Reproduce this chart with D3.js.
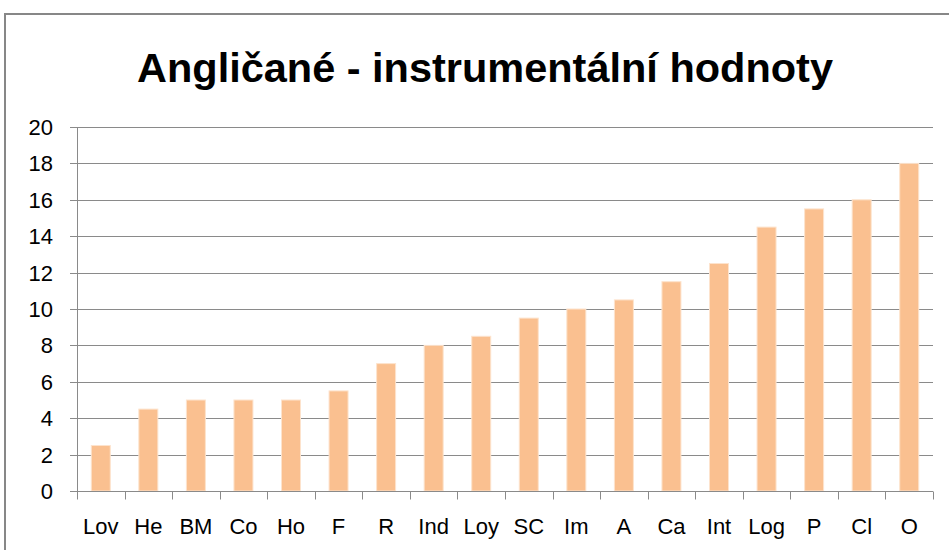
<!DOCTYPE html>
<html>
<head>
<meta charset="utf-8">
<script src="https://cdn.jsdelivr.net/npm/d3@7"></script>
<style>
  html, body { margin: 0; padding: 0; background: #fff; }
  svg { display: block; }
  text { font-family: "Liberation Sans", Arial, sans-serif; fill: #000; }
</style>
</head>
<body>
<svg id="chart" width="949" height="550"></svg>
<script>
// data
const categories = ['Lov', 'He', 'BM', 'Co', 'Ho', 'F', 'R', 'Ind', 'Loy', 'SC', 'Im', 'A', 'Ca', 'Int', 'Log', 'P', 'Cl', 'O'];
const values = [2.5, 4.5, 5, 5, 5, 5.5, 7, 8, 8.5, 9.5, 10, 10.5, 11.5, 12.5, 14.5, 15.5, 16, 18];
const yTicks = [0, 2, 4, 6, 8, 10, 12, 14, 16, 18, 20];
const title = 'Angličané - instrumentální hodnoty';

const width = 949;
const height = 550;
const margin = { top: 127, right: 16, bottom: 59, left: 77 };

const svg = d3.select('#chart');

// outer chart frame (only top and left edges are in view)
svg.append('rect')
  .attr('x', 5).attr('y', 14)
  .attr('width', 1000).attr('height', 700)
  .attr('fill', 'none')
  .attr('stroke', '#878787')
  .attr('stroke-width', 2);

const x = d3.scaleBand()
  .domain(categories)
  .range([margin.left, width - margin.right])
  .paddingInner(0.6)
  .paddingOuter(0.3);

// band boundaries for the tick marks
const step = (width - margin.right - margin.left) / categories.length;

const y = d3.scaleLinear()
  .domain([0, 20])
  .range([height - margin.bottom, margin.top]);

// gridlines
svg.append('g')
  .selectAll('line')
  .data(yTicks)
  .join('line')
  .attr('x1', margin.left - 7)
  .attr('x2', width - margin.right)
  .attr('y1', (d) => Math.round(y(d)) + 0.5)
  .attr('y2', (d) => Math.round(y(d)) + 0.5)
  .attr('stroke', '#8a8a8a')
  .attr('stroke-width', 1);

// bars
svg.append('g')
  .selectAll('rect')
  .data(values)
  .join('rect')
  .attr('x', (d, i) => {
    const c = margin.left + step * (i + 0.5);
    return c - 9.5;
  })
  .attr('width', 19)
  .attr('y', (d) => y(d))
  .attr('height', (d) => y(0) - y(d))
  .attr('fill', '#fac090')
  .attr('stroke', '#fde3cd')
  .attr('stroke-width', 1);

// y axis line
svg.append('line')
  .attr('x1', margin.left + 0.5).attr('x2', margin.left + 0.5)
  .attr('y1', y(20)).attr('y2', y(0) + 8)
  .attr('stroke', '#8a8a8a');

// x axis line + category boundary ticks
const zeroY = Math.round(y(0)) + 0.5;
svg.append('line')
  .attr('x1', margin.left).attr('x2', width - margin.right)
  .attr('y1', zeroY).attr('y2', zeroY)
  .attr('stroke', '#8a8a8a');

svg.append('g')
  .selectAll('line')
  .data(d3.range(categories.length + 1))
  .join('line')
  .attr('x1', (i) => Math.round(margin.left + step * i) + 0.5)
  .attr('x2', (i) => Math.round(margin.left + step * i) + 0.5)
  .attr('y1', zeroY)
  .attr('y2', zeroY + 8)
  .attr('stroke', '#8a8a8a');

// y labels
svg.append('g')
  .selectAll('text')
  .data(yTicks)
  .join('text')
  .attr('x', 53)
  .attr('y', (d) => y(d))
  .attr('dy', '0.36em')
  .attr('text-anchor', 'end')
  .attr('font-size', 22)
  .text((d) => d);

// x labels
svg.append('g')
  .selectAll('text')
  .data(categories)
  .join('text')
  .attr('x', (d) => x(d) + x.bandwidth() / 2)
  .attr('y', 534)
  .attr('text-anchor', 'middle')
  .attr('font-size', 22)
  .text((d) => d);

// title
svg.append('text')
  .attr('x', 485)
  .attr('y', 82)
  .attr('text-anchor', 'middle')
  .attr('font-size', 40)
  .attr('font-weight', 'bold')
  .attr('textLength', 696)
  .attr('lengthAdjust', 'spacingAndGlyphs')
  .text(title);
</script>
</body>
</html>
